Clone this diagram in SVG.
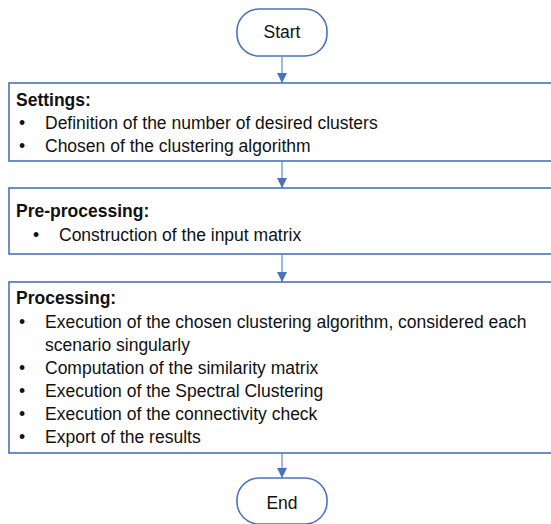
<svg xmlns="http://www.w3.org/2000/svg" width="551" height="524" viewBox="0 0 551 524">
<style>
.box{fill:#fff;stroke:#4a72bd;stroke-width:1.6}
.term{fill:#fff;stroke:#4a72bd;stroke-width:1.6}
.t{font-family:"Liberation Sans",Arial,sans-serif;font-size:17.5px;fill:#111}
.b{font-weight:bold}
.c{text-anchor:middle}
.edge{stroke:#6f94d6;stroke-width:1.3;fill:none;marker-end:url(#ah)}
</style>
<defs>
<marker id="ah" viewBox="0 0 10 10" refX="10" refY="5" markerWidth="10" markerHeight="10" markerUnits="userSpaceOnUse" orient="auto">
<path d="M0,0 L10,5 L0,10 z" fill="#4a72bd"/>
</marker>
</defs>
<rect width="551" height="524" fill="#fff"/>
<g id="connectors">
<line class="edge" x1="282" y1="57" x2="282" y2="83"/>
<line class="edge" x1="282" y1="161" x2="282" y2="188"/>
<line class="edge" x1="282" y1="254" x2="282" y2="282"/>
<line class="edge" x1="282" y1="453" x2="282" y2="478"/>
</g>
<g id="start">
<rect class="term" x="237" y="9" width="90" height="47" rx="22" ry="22"/>
<text class="t c" x="282" y="38">Start</text>
</g>
<g id="settings">
<rect class="box" x="9" y="83" width="560" height="78"/>
<text class="t b" x="16" y="106">Settings:</text>
<text class="t" x="19" y="129">•</text>
<text class="t" x="45" y="129">Definition of the number of desired clusters</text>
<text class="t" x="19" y="152">•</text>
<text class="t" x="45" y="152">Chosen of the clustering algorithm</text>
</g>
<g id="preprocessing">
<rect class="box" x="9" y="188" width="560" height="66"/>
<text class="t b" x="16" y="217">Pre-processing:</text>
<text class="t" x="33" y="241">•</text>
<text class="t" x="59" y="241">Construction of the input matrix</text>
</g>
<g id="processing">
<rect class="box" x="9" y="282" width="560" height="171"/>
<text class="t b" x="16" y="304">Processing:</text>
<text class="t" x="19" y="328">•</text>
<text class="t" x="45" y="328">Execution of the chosen clustering algorithm, considered each</text>
<text class="t" x="45" y="351">scenario singularly</text>
<text class="t" x="19" y="374">•</text>
<text class="t" x="45" y="374">Computation of the similarity matrix</text>
<text class="t" x="19" y="397">•</text>
<text class="t" x="45" y="397">Execution of the Spectral Clustering</text>
<text class="t" x="19" y="420">•</text>
<text class="t" x="45" y="420">Execution of the connectivity check</text>
<text class="t" x="19" y="443">•</text>
<text class="t" x="45" y="443">Export of the results</text>
</g>
<g id="end">
<rect class="term" x="237" y="478" width="90" height="46" rx="22" ry="22"/>
<text class="t c" x="282" y="509">End</text>
</g>
</svg>
